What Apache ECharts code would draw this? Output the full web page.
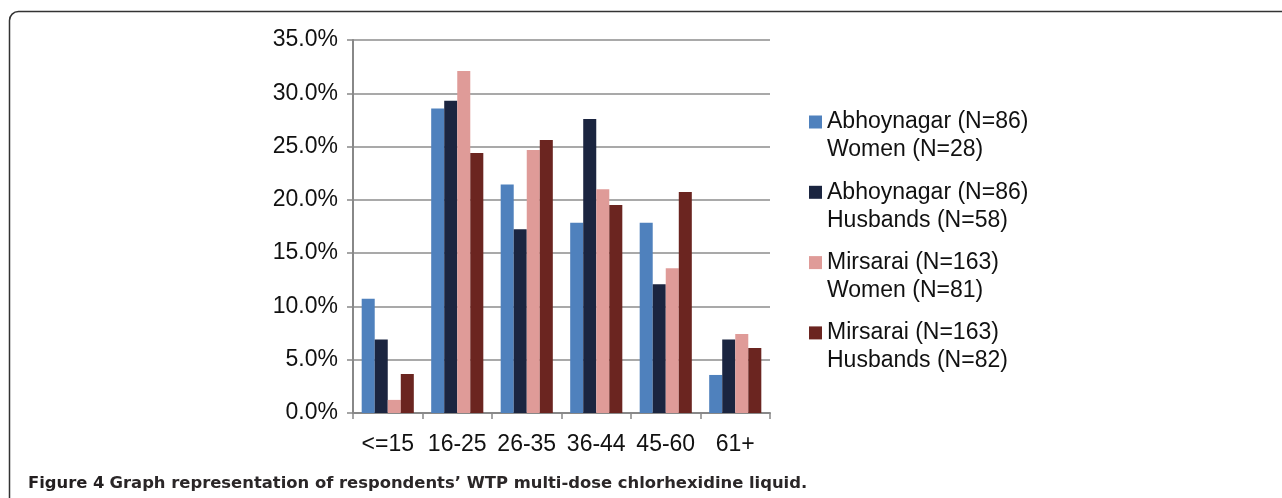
<!DOCTYPE html>
<html>
<head>
<meta charset="utf-8">
<script src="https://cdn.jsdelivr.net/npm/echarts@6/dist/echarts.min.js"></script>
<style>
    html, body { margin: 0; padding: 0; background: #fff; }
    #chart { width: 1282px; height: 498px; }
</style>
</head>
<body>
<div id="chart"></div>
<script>
// age groups on the x axis
const categories = ['<=15', '16-25', '26-35', '36-44', '45-60', '61+'];
const seriesNames = [
    'Abhoynagar (N=86)\nWomen (N=28)',
    'Abhoynagar (N=86)\nHusbands (N=58)',
    'Mirsarai (N=163)\nWomen (N=81)',
    'Mirsarai (N=163)\nHusbands (N=82)',
];
// percent of respondents
const abhoynagarWomen = [10.71, 28.57, 21.43, 17.86, 17.86, 3.57];
const abhoynagarHusbands = [6.90, 29.31, 17.24, 27.59, 12.07, 6.90];
const mirsaraiWomen = [1.23, 32.10, 24.69, 20.99, 13.58, 7.41];
const mirsaraiHusbands = [3.66, 24.39, 25.61, 19.51, 20.73, 6.10];
const seriesValues = [abhoynagarWomen, abhoynagarHusbands, mirsaraiWomen, mirsaraiHusbands];

const colors = ['#4f81bd', '#1b2540', '#df9b98', '#6b2520'];
const font = '"Liberation Sans", Arial, sans-serif';

const myChart = echarts.init(document.getElementById('chart'));

const option = {
    animation: false,
    color: colors,
    title: {
        left: 23,
        top: 469,
        text: '{a|Figure 4} {b|Graph representation of respondents\u2019 WTP multi-dose chlorhexidine liquid.}',
        textStyle: {
            rich: {
                a: { fontFamily: '"DejaVu Sans", sans-serif', fontWeight: 'bold', fontSize: 16.4, color: '#231f20', lineHeight: 20 },
                b: { fontFamily: '"DejaVu Sans", sans-serif', fontWeight: 'bold', fontSize: 16.4, color: '#2b2728', lineHeight: 20 },
            },
        },
    },
    // one legend per series; a blank first line keeps the swatch on the first text line
    legend: seriesNames.map((name, i) => ({
        data: [name],
        orient: 'vertical',
        left: 809,
        top: 80 + i * 70.3,
        padding: 0,
        itemWidth: 13,
        itemHeight: 13,
        icon: 'rect',
        selectedMode: false,
        formatter: (n) => ' \n' + n,
        textStyle: {
            fontFamily: font,
            fontSize: 23,
            lineHeight: 28,
            color: '#111',
        },
    })),
    grid: {
        left: 353,
        right: 512,
        top: 40,
        bottom: 85,
    },
    xAxis: {
        type: 'category',
        data: categories,
        axisLine: { lineStyle: { color: '#888', width: 2 } },
        axisTick: { show: true, length: 6, lineStyle: { color: '#888', width: 1.5 } },
        axisLabel: { interval: 0, fontFamily: font, fontSize: 23, color: '#111', margin: 20 },
    },
    yAxis: {
        type: 'value',
        min: 0,
        max: 35,
        interval: 5,
        axisLine: { show: true, lineStyle: { color: '#888', width: 2 } },
        axisTick: { show: true, length: 6, lineStyle: { color: '#888', width: 1.5 } },
        splitLine: { lineStyle: { color: '#8c8c8c', width: 1.5 } },
        axisLabel: {
            fontFamily: font,
            fontSize: 23,
            color: '#111',
            margin: 15,
            formatter: (v) => v.toFixed(1) + '%',
        },
    },
    series: seriesNames.map((name, i) => ({
        name: name,
        type: 'bar',
        data: seriesValues[i],
        barGap: '0%',
        barCategoryGap: '25%',
        itemStyle: { color: colors[i] },
    })),
    graphic: [
        {
            type: 'rect',
            silent: true,
            shape: { x: 9.5, y: 11.5, width: 1400, height: 600, r: [9, 0, 0, 0] },
            style: { fill: 'none', stroke: '#333', lineWidth: 1.5 },
        },
    ],
};

myChart.setOption(option, true);
</script>
</body>
</html>
